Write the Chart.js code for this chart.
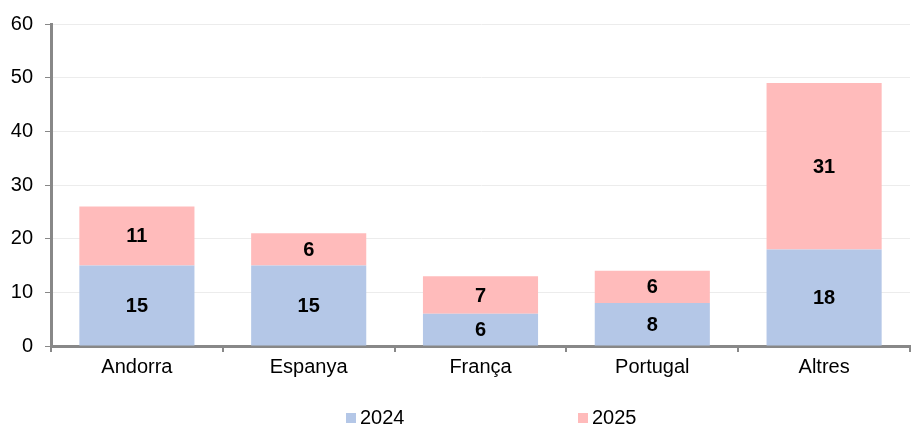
<!DOCTYPE html>
<html>
<head>
<meta charset="utf-8">
<script src="https://cdn.jsdelivr.net/npm/chart.js@4/dist/chart.umd.min.js"></script>
<style>
  html, body { margin: 0; padding: 0; background: #fff; }
  #wrap { width: 913px; height: 427px; }
</style>
</head>
<body>
<div id="wrap"><canvas id="chart" width="913" height="427"></canvas></div>
<script>
const categories = ["Andorra", "Espanya", "França", "Portugal", "Altres"];
const values2024 = [15, 15, 6, 8, 18];
const values2025 = [11, 6, 7, 6, 31];
const yTicks = [0, 10, 20, 30, 40, 50, 60];

const FONT = "'Liberation Sans', Arial, sans-serif";

// ------------------- value labels inside bars -------------------
const barLabels = {
  id: "barLabels",
  afterDatasetsDraw(chart) {
    const ctx = chart.ctx;
    ctx.save();
    ctx.font = "bold 20px " + FONT;
    ctx.fillStyle = "#000";
    ctx.textAlign = "center";
    ctx.textBaseline = "middle";
    chart.data.datasets.forEach((ds, i) => {
      chart.getDatasetMeta(i).data.forEach((bar, j) => {
        const mid = (bar.y + bar.base) / 2;
        ctx.fillText(ds.data[j], bar.x, mid + 1);
      });
    });
    ctx.restore();
  }
};

// ------------------- legend at the bottom -------------------
const bottomLegend = {
  id: "bottomLegend",
  afterDraw(chart) {
    const ctx = chart.ctx;
    const starts = [346, 578];
    ctx.save();
    ctx.font = "20px " + FONT;
    ctx.textBaseline = "middle";
    chart.data.datasets.forEach((ds, i) => {
      const x = starts[i];
      ctx.fillStyle = ds.backgroundColor;
      ctx.fillRect(x, 413, 10, 10);
      ctx.fillStyle = "#000";
      ctx.fillText(ds.label, x + 14, 418);
    });
    ctx.restore();
  }
};

new Chart(document.getElementById("chart"), {
  type: "bar",
  data: {
    labels: categories,
    datasets: [
      { label: "2024", data: values2024, backgroundColor: "#b4c7e7" },
      { label: "2025", data: values2025, backgroundColor: "#ffbbbb" }
    ]
  },
  options: {
    responsive: false,
    animation: false,
    layout: { padding: { top: 24, right: 3, bottom: 41, left: 0 } },
    datasets: { bar: { categoryPercentage: 1, barPercentage: 0.67 } },
    plugins: { legend: { display: false }, tooltip: { enabled: false } },
    scales: {
      x: {
        stacked: true,
        afterFit: s => { s.height = 40; },
        grid: { offset: true, drawOnChartArea: false, tickColor: "#888", tickLength: 6, lineWidth: 2 },
        border: { color: "#888", width: 3 },
        ticks: { color: "#000", font: { family: FONT, size: 20 }, padding: 3 }
      },
      y: {
        stacked: true,
        min: 0,
        max: 60,
        afterFit: s => { s.width = 51; },
        afterBuildTicks: s => { s.ticks = yTicks.map(v => ({ value: v })); },
        grid: { color: "#ececec", tickColor: "#888", tickLength: 6, lineWidth: 1 },
        border: { color: "#888", width: 3 },
        ticks: { color: "#000", font: { family: FONT, size: 20 }, padding: 12 }
      }
    }
  },
  plugins: [barLabels, bottomLegend]
});
</script>
</body>
</html>
